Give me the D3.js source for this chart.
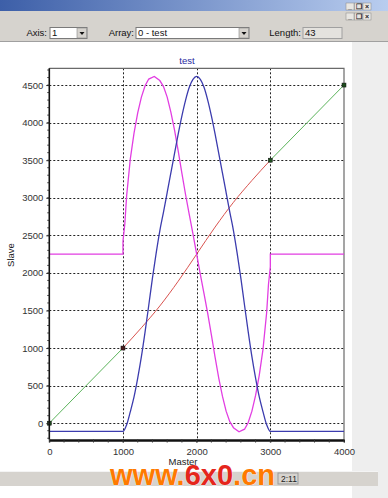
<!DOCTYPE html>
<html>
<head>
<meta charset="utf-8">
<script src="https://cdn.jsdelivr.net/npm/d3@7"></script>
<style>
  body { margin: 0; background: #fff; }
  svg { display: block; font-family: "Liberation Sans", Arial, sans-serif; }
</style>
</head>
<body>
<svg id="chart" width="388" height="498"></svg>
<script>
// values
const xTicks = [0, 1000, 2000, 3000, 4000];
const yTicks = [0, 500, 1000, 1500, 2000, 2500, 3000, 3500, 4000, 4500];

const greenAX = [0, 1000];
const greenAY = [0, 1000];
const greenBX = [3000, 4000];
const greenBY = [3500, 4500];

const redX = [1000, 1250, 1500, 1750, 2000, 2250, 2500, 2750, 3000];
const redY = [1000, 1270, 1560, 1890, 2250, 2610, 2940, 3230, 3500];

const magentaX = [0, 1000, 1000, 1025, 1050, 1100, 1150, 1200, 1250, 1300, 1350, 1425, 1500, 1550,
  1600, 1650, 1700, 1750, 1800, 1850, 1900, 1950, 2000, 2050, 2100, 2150, 2200, 2250, 2300, 2350,
  2400, 2450, 2500, 2575, 2650, 2700, 2750, 2800, 2850, 2900, 2950, 2975, 3000, 3000, 4000];
const magentaY = [2250, 2250, 2420, 2650, 3030, 3520, 3860, 4130, 4340, 4490, 4580, 4615, 4560, 4480,
  4340, 4140, 3900, 3620, 3325, 3040, 2775, 2520, 2250, 1980, 1725, 1460, 1175, 880, 600, 360,
  160, 20, -60, -115, -80, 10, 160, 370, 640, 980, 1470, 1850, 2080, 2250, 2250];

const blueX = [0, 1000, 1050, 1100, 1150, 1200, 1250, 1300, 1350, 1400, 1450, 1500, 1550, 1600, 1650,
  1700, 1750, 1800, 1850, 1900, 1950, 2000, 2050, 2100, 2150, 2200, 2250, 2300, 2350, 2400, 2450,
  2500, 2550, 2600, 2650, 2700, 2750, 2800, 2850, 2900, 2950, 3000, 4000];
const blueY = [-110, -110, -20, 155, 350, 600, 885, 1215, 1570, 1930, 2260, 2560, 2810, 3070, 3330,
  3590, 3850, 4090, 4300, 4470, 4575, 4615, 4575, 4470, 4300, 4090, 3850, 3590, 3330, 3070, 2810,
  2560, 2260, 1930, 1570, 1215, 885, 600, 350, 155, -20, -110, -110];

const markerX = [0, 1000, 3000, 4000];
const markerY = [0, 1000, 3500, 4500];
const markerColor = ['#1d4d1d', '#4a1c1c', '#1d4d1d', '#1d4d1d'];

const svg = d3.select('#chart');
const W = 388, H = 498;

// ---- window chrome ----
const grad = svg.append('defs').append('linearGradient').attr('id', 'tb');
grad.append('stop').attr('offset', '0%').attr('stop-color', '#3d5fa8');
grad.append('stop').attr('offset', '100%').attr('stop-color', '#b9cdef');
svg.append('rect').attr('x', 0).attr('y', 0).attr('width', W).attr('height', 11).attr('fill', 'url(#tb)');
svg.append('rect').attr('x', 0).attr('y', 11).attr('width', W).attr('height', 30).attr('fill', '#d6d3ce');
svg.append('line').attr('x1', 0).attr('x2', W).attr('y1', 41.5).attr('y2', 41.5).attr('stroke', '#a0a0a0');
svg.append('rect').attr('x', 352).attr('y', 42).attr('width', 36).attr('height', H - 42).attr('fill', '#eeeeee');

// small window buttons
const btn = ['_', '\u2750', '\u00d7'];
[3, 13].forEach(by => {
  btn.forEach((b, i) => {
    const bx = 346 + i * 8.5;
    svg.append('rect').attr('x', bx).attr('y', by).attr('width', 8).attr('height', 7)
      .attr('fill', '#e8e6e2').attr('stroke', '#888').attr('stroke-width', 0.5);
    svg.append('text').attr('x', bx + 4).attr('y', by + 6).attr('text-anchor', 'middle')
      .attr('font-size', 7).attr('font-weight', 'bold').attr('fill', '#222').text(b);
  });
});

// toolbar
const tb = svg.append('g').attr('font-size', 9.5).attr('fill', '#111');
tb.append('text').attr('x', 47).attr('y', 36).attr('text-anchor', 'end').text('Axis:');
tb.append('rect').attr('x', 50).attr('y', 27.5).attr('width', 37).attr('height', 11).attr('fill', '#fff').attr('stroke', '#7a7a7a');
tb.append('text').attr('x', 52).attr('y', 36).text('1');
tb.append('text').attr('x', 134).attr('y', 36).attr('text-anchor', 'end').text('Array:');
tb.append('rect').attr('x', 136).attr('y', 27.5).attr('width', 113).attr('height', 11).attr('fill', '#fff').attr('stroke', '#7a7a7a');
tb.append('text').attr('x', 138).attr('y', 36).text('0 - test');
tb.append('text').attr('x', 301).attr('y', 36).attr('text-anchor', 'end').text('Length:');
tb.append('rect').attr('x', 303).attr('y', 27.5).attr('width', 39).attr('height', 11).attr('fill', '#e4e2de').attr('stroke', '#a0a0a0');
tb.append('text').attr('x', 305).attr('y', 36).text('43');
[[77, 28], [239, 28]].forEach(([ax, ay]) => {
  tb.append('rect').attr('x', ax).attr('y', ay).attr('width', 9.5).attr('height', 10).attr('fill', '#d6d3ce').attr('stroke', '#888').attr('stroke-width', 0.6);
  tb.append('path').attr('d', `M${ax + 2.5},${ay + 4}h5l-2.5,3z`).attr('fill', '#111');
});

// ---- plot ----
const x = d3.scaleLinear().domain([0, 4000]).range([49.3, 344]);
const y = d3.scaleLinear().domain([-217, 4723]).range([439.5, 68.3]);
const [x0, x1] = x.range();
const [yb, yt] = y.range();

svg.append('clipPath').attr('id', 'clip').append('rect')
  .attr('x', x0).attr('y', yt).attr('width', x1 - x0).attr('height', yb - yt);

// grid
const grid = svg.append('g').attr('stroke', '#222').attr('stroke-width', 1).attr('stroke-dasharray', '2,2');
grid.selectAll('line.h').data(yTicks).join('line').attr('class', 'h')
  .attr('x1', x0).attr('x2', x1)
  .attr('y1', d => Math.round(y(d)) + 0.5).attr('y2', d => Math.round(y(d)) + 0.5);
grid.selectAll('line.v').data(xTicks.slice(1, -1)).join('line').attr('class', 'v')
  .attr('y1', yt).attr('y2', yb)
  .attr('x1', d => Math.round(x(d)) + 0.5).attr('x2', d => Math.round(x(d)) + 0.5);

// frame top/right
svg.append('path').attr('d', `M${x0},${yt}H${x1}V${yb}`).attr('fill', 'none').attr('stroke', '#6a6a6a').attr('stroke-width', 1.2);

// series
const line = (xs, ys, curve) => d3.line().x(i => x(xs[i])).y(i => y(ys[i])).curve(curve || d3.curveLinear)(d3.range(xs.length));
const plot = svg.append('g').attr('clip-path', 'url(#clip)').attr('fill', 'none');
plot.append('path').attr('d', line(greenAX, greenAY)).attr('stroke', '#5bb35b').attr('stroke-width', 1);
plot.append('path').attr('d', line(greenBX, greenBY)).attr('stroke', '#5bb35b').attr('stroke-width', 1);
plot.append('path').attr('d', line(redX, redY, d3.curveMonotoneX)).attr('stroke', '#d9534f').attr('stroke-width', 1);
plot.append('path').attr('d', line(magentaX, magentaY)).attr('stroke', '#e23ee2').attr('stroke-width', 1.3);
plot.append('path').attr('d', line(blueX, blueY, d3.curveMonotoneX)).attr('stroke', '#3c3cae').attr('stroke-width', 1.3);

svg.append('g').selectAll('rect').data(d3.range(markerX.length)).join('rect')
  .attr('x', i => x(markerX[i]) - 2).attr('y', i => y(markerY[i]) - 2)
  .attr('width', 4).attr('height', 4)
  .attr('fill', i => markerColor[i]).attr('stroke', '#111').attr('stroke-width', 0.5);

// axes
const yAxis = svg.append('g').attr('transform', `translate(${x0},0)`)
  .call(d3.axisLeft(y).tickValues(yTicks).tickSize(3).tickPadding(3).tickFormat(d3.format('d')));
const xAxis = svg.append('g').attr('transform', `translate(0,${yb})`)
  .call(d3.axisBottom(x).tickValues(xTicks).tickSize(3).tickPadding(6).tickFormat(d3.format('d')));
[yAxis, xAxis].forEach(a => {
  a.select('.domain').attr('stroke', '#111').attr('stroke-width', 1.6);
  a.selectAll('text').attr('font-size', 9.5).attr('fill', '#333').attr('font-family', '"Liberation Sans", Arial, sans-serif');
  a.selectAll('.tick line').attr('stroke', '#222');
});
yAxis.select('.domain').attr('d', `M0,${yb}V${yt}`);
xAxis.select('.domain').attr('d', `M${x0},1V1H${x1}`).attr('stroke-width', 2.4);

// minor ticks
svg.append('g').attr('stroke', '#333').selectAll('line')
  .data(d3.range(-200, 4701, 100)).join('line')
  .attr('x1', x0 - 2).attr('x2', x0).attr('y1', d => y(d)).attr('y2', d => y(d));
svg.append('g').attr('stroke', '#333').selectAll('line')
  .data(d3.range(0, 4001, 200)).join('line')
  .attr('y1', yb).attr('y2', yb + 3).attr('x1', d => x(d)).attr('x2', d => x(d));

// titles
svg.append('text').attr('x', 187).attr('y', 64).attr('text-anchor', 'middle')
  .attr('font-size', 9.5).attr('fill', '#2a2aa0').text('test');
svg.append('text').attr('transform', 'translate(14,255) rotate(-90)').attr('text-anchor', 'middle')
  .attr('font-size', 9.5).attr('fill', '#222').text('Slave');
svg.append('text').attr('x', 183).attr('y', 465).attr('text-anchor', 'middle')
  .attr('font-size', 9.5).attr('fill', '#222').text('Master');

// status bar
svg.append('rect').attr('x', 0).attr('y', 471).attr('width', 378).attr('height', 15).attr('fill', '#d6d3ce');
svg.append('line').attr('x1', 0).attr('x2', 378).attr('y1', 471.5).attr('y2', 471.5).attr('stroke', '#f4f4f4');
svg.append('rect').attr('x', 278).attr('y', 473).attr('width', 20).attr('height', 11).attr('fill', 'none').attr('stroke', '#999');
svg.append('text').attr('x', 281).attr('y', 482).attr('font-size', 8.5).attr('fill', '#222').text('2:11');

// watermark
const wm = svg.append('text').attr('x', 110).attr('y', 485).attr('font-size', 29).attr('font-weight', 'bold')
  .attr('stroke', '#fff').attr('stroke-width', 0.6).attr('paint-order', 'stroke')
  .attr('textLength', 165).attr('lengthAdjust', 'spacingAndGlyphs');
wm.append('tspan').attr('fill', '#ff7a00').text('www.');
wm.append('tspan').attr('fill', '#e5261c').text('6x0');
wm.append('tspan').attr('fill', '#ff7a00').text('.cn');
</script>
</body>
</html>
